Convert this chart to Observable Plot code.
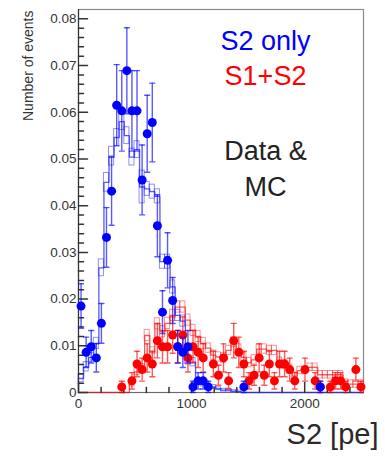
<!DOCTYPE html>
<html><head><meta charset="utf-8">
<script src="https://cdn.jsdelivr.net/npm/d3@7"></script>
<script src="https://cdn.jsdelivr.net/npm/@observablehq/plot@0.6"></script>
<style>
html,body{margin:0;padding:0;background:#fff;}
#chart svg{display:block;}
</style></head><body><div id="chart"></div>
<script>
// ---- data ----
const binWidth = 45;          // pe per bin
const xMax = 2520;            // histogram range upper edge
const eventWeight = 0.00123;  // normalisation per event (Poisson errors)

const blueData = [0.0185, 0.0086, 0.0098, 0.0074, 0.0148, 0.0332, 0.0431, 0.0615, 0.0603, 0.0689,
  0.0603, 0.0603, 0.0455, 0.0554, 0.0578, 0.0357, 0.0172, 0.0283, 0.0197, 0.0098,
  0.0086, 0.0098, 0.0012, 0.0025, 0.0025, 0.0012, null, null, null, null,
  null, null, 0.0012, null, null, null, null, null, null, null,
  null, null, null, null, null, null, null, 0.0012, null, null,
  null, null, null, null, null, null];

const redData = [null, null, null, null, null, null, null, null, 0.0012, null,
  0.0025, 0.0061, 0.0049, 0.0074, 0.0061, 0.0111, 0.0098, 0.0098, 0.0123, 0.0098,
  0.0123, 0.0074, 0.0098, 0.0086, 0.0074, null, 0.0061, 0.0037, 0.0074, 0.0025,
  0.0111, 0.0086, 0.0061, 0.0025, 0.0037, 0.0074, 0.0037, 0.0061, 0.0025, 0.0061,
  0.0061, 0.0049, 0.0025, null, 0.0049, null, 0.0025, 0.0012, null, 0.0012,
  0.0025, 0.0025, 0.0012, null, 0.0049, 0.0012];

const blueMC = [0.003, 0.0055, 0.0075, 0.0105, 0.0267, 0.045, 0.0506, 0.0546, 0.058, 0.055,
  0.0504, 0.052, 0.044, 0.0436, 0.043, 0.042, 0.028, 0.028, 0.0226, 0.0165,
  0.0153, 0.0069, 0.0065, 0.0022, 0.0018, 0.0015, 0.0012, 0.0008, 0.0005, 0.0005,
  0.0003, 0.0002, 0, 0, 0, 0, 0, 0, 0, 0,
  0, 0, 0, 0, 0, 0, 0, 0, 0, 0,
  0, 0, 0, 0, 0, 0];
const blueMCErr = [0.0008, 0.001, 0.001, 0.0012, 0.0018, 0.002, 0.002, 0.0018, 0.0018, 0.0018,
  0.0018, 0.0018, 0.0035, 0.0015, 0.0015, 0.0015, 0.0015, 0.0015, 0.0014, 0.0012,
  0.0012, 0.0009, 0.0009, 0.0005, 0.0005, 0.0004, 0.0004, 0.0003, 0.0003, 0.0003,
  0.0002, 0.0002, 0, 0, 0, 0, 0, 0, 0, 0,
  0, 0, 0, 0, 0, 0, 0, 0, 0, 0,
  0, 0, 0, 0, 0, 0];

const redMC = [0, 0, 0, 0, 0, 0, 0, 0, 0, 0,
  0.002, 0.0044, 0.0054, 0.0122, 0.0085, 0.0147, 0.013, 0.0148, 0.0165, 0.0183,
  0.0183, 0.0155, 0.0133, 0.012, 0.0105, 0.0095, 0.008, 0.0076, 0.0074, 0.009,
  0.0108, 0.0093, 0.0075, 0.0064, 0.007, 0.0093, 0.0093, 0.009, 0.009, 0.0065,
  0.006, 0.005, 0.0035, 0.0047, 0.0047, 0.0054, 0.0054, 0.0038, 0.0038, 0.0038,
  0.0038, 0.0038, 0.002, 0.0018, 0.0018, 0.0018];
const redMCErr = [0, 0, 0, 0, 0, 0, 0, 0, 0, 0,
  0.0007, 0.0007, 0.0007, 0.0012, 0.0012, 0.0012, 0.0012, 0.0012, 0.0012, 0.0012,
  0.0012, 0.0012, 0.0012, 0.0012, 0.0012, 0.001, 0.001, 0.001, 0.001, 0.001,
  0.001, 0.001, 0.001, 0.001, 0.001, 0.001, 0.001, 0.001, 0.001, 0.001,
  0.001, 0.001, 0.0008, 0.0008, 0.0008, 0.0008, 0.0008, 0.0008, 0.0008, 0.0008,
  0.0008, 0.0008, 0.0008, 0.0008, 0.0008, 0.0008];

const xTickLabels = [0, 1000, 2000];
const yTickLabels = [0, 0.01, 0.02, 0.03, 0.04, 0.05, 0.06, 0.07, 0.08];
const xMinorTicks = [200, 400, 600, 800, 1200, 1400, 1600, 1800, 2200, 2400];
const yMinorTicks = [0.002, 0.004, 0.006, 0.008, 0.012, 0.014, 0.016, 0.018, 0.022, 0.024, 0.026, 0.028,
  0.032, 0.034, 0.036, 0.038, 0.042, 0.044, 0.046, 0.048, 0.052, 0.054, 0.056, 0.058,
  0.062, 0.064, 0.066, 0.068, 0.072, 0.074, 0.076, 0.078];
const legendLabels = ["S2 only", "S1+S2", "Data &", "MC"];
const xTitle = "S2 [pe]";
const yTitle = "Number of events";

// ---- helpers ----
const FONT = "'Liberation Sans', Arial, Helvetica, sans-serif";
const BLUE = "#0000ff", RED = "#ff0000";
const center = i => (i + 0.5) * binWidth;
const pointsOf = vals => vals.map((v, i) => v == null ? null :
  {x: center(i), y: v, e: Math.sqrt(v / eventWeight) * eventWeight}).filter(Boolean);
const stepOf = vals => {
  const p = vals.map((v, i) => ({x: i * binWidth, y: v}));
  p.push({x: xMax, y: vals[vals.length - 1]});
  return p;
};
const bandOf = (vals, errs) => vals.map((v, i) => ({x1: i * binWidth, x2: (i + 1) * binWidth,
  y1: Math.max(0, v - errs[i]), y2: v + errs[i], v})).filter(d => d.v > 0);
const lineShape = {draw(ctx, l) { ctx.moveTo(0, 0); ctx.lineTo(0, -l); }};

const blueP = pointsOf(blueData), redP = pointsOf(redData);

function dataMarks(pts, color) {
  return [
    Plot.ruleX(pts, {x: "x", y1: d => d.y - d.e, y2: d => d.y + d.e, stroke: color, strokeOpacity: 0.65, strokeWidth: 1.4}),
    Plot.vector(pts, {x: "x", y: d => d.y + d.e, rotate: 90, length: 5, anchor: "middle", shape: lineShape, stroke: color, strokeOpacity: 0.65, strokeWidth: 1.4}),
    Plot.vector(pts, {x: "x", y: d => d.y - d.e, rotate: 90, length: 5, anchor: "middle", shape: lineShape, stroke: color, strokeOpacity: 0.65, strokeWidth: 1.4}),
    Plot.dot(pts, {x: "x", y: "y", r: 4.5, fill: color, stroke: null})
  ];
}
function mcMarks(vals, errs, color) {
  return [
    Plot.rect(bandOf(vals, errs), {x1: "x1", x2: "x2", y1: "y1", y2: "y2", fill: "none", stroke: color, strokeOpacity: 0.5, strokeWidth: 1}),
    Plot.line(stepOf(vals), {x: "x", y: "y", curve: "step-after", stroke: color, strokeOpacity: 0.75, strokeWidth: 1.3})
  ];
}

const legendDy = [21.5, 56, 131, 167];
const legendColor = [BLUE, RED, "#222", "#222"];

const chart = Plot.plot({
  width: 385, height: 464,
  marginLeft: 78, marginRight: 22, marginTop: 9, marginBottom: 72,
  style: {fontFamily: FONT, background: "#fff"},
  x: {domain: [0, xMax]},
  y: {domain: [0, 0.082]},
  marks: [
    Plot.frame({stroke: "#8a8a8a", strokeWidth: 1.2}),
    ...mcMarks(redMC, redMCErr, "#ff2020"),
    ...mcMarks(blueMC, blueMCErr, "#2020ff"),
    Plot.ruleX([0], {stroke: "#333", strokeWidth: 1.2}),
    Plot.vector(yMinorTicks, {y: d => d, frameAnchor: "left", rotate: 90, length: 5, anchor: "start", shape: lineShape, stroke: "#333"}),
    Plot.vector(yTickLabels, {y: d => d, frameAnchor: "left", rotate: 90, length: 9, anchor: "start", shape: lineShape, stroke: "#333"}),
    Plot.vector(xMinorTicks, {x: d => d, frameAnchor: "bottom", rotate: 0, length: 5, anchor: "start", shape: lineShape, stroke: "#333"}),
    Plot.vector(xTickLabels, {x: d => d, frameAnchor: "bottom", rotate: 0, length: 10, anchor: "start", shape: lineShape, stroke: "#333"}),
    Plot.axisY(yTickLabels, {tickSize: 0, tickPadding: 2, tickFormat: d => d === 0 ? "0" : d.toFixed(2), fontSize: 13.5, fill: "#333", label: null}),
    Plot.axisX(xTickLabels, {tickSize: 0, tickPadding: 6, tickFormat: d => String(d), fontSize: 13.5, fill: "#333", label: null}),
    ...dataMarks(redP, RED),
    ...dataMarks(blueP, BLUE),
    Plot.ruleY([0], {stroke: "#333", strokeOpacity: 0.35}),
    ...legendLabels.map((t, i) => Plot.text([t], {text: d => d, frameAnchor: "top-left", textAnchor: "middle", lineAnchor: "top",
      dx: 187, dy: legendDy[i], fontSize: 27, fill: legendColor[i], fontFamily: FONT})),
    Plot.text([xTitle], {text: d => d, frameAnchor: "bottom-right", textAnchor: "end", dx: 15, dy: 51.5,
      fontSize: 29, fill: "#2a2a2a", fontFamily: FONT}),
    Plot.text([yTitle], {text: d => d, frameAnchor: "top-left", textAnchor: "end", lineAnchor: "middle", rotate: -90, dx: -50, dy: 1,
      fontSize: 14, fill: "#333", fontFamily: FONT})
  ]
});
document.getElementById("chart").appendChild(chart);
</script>
</body></html>
